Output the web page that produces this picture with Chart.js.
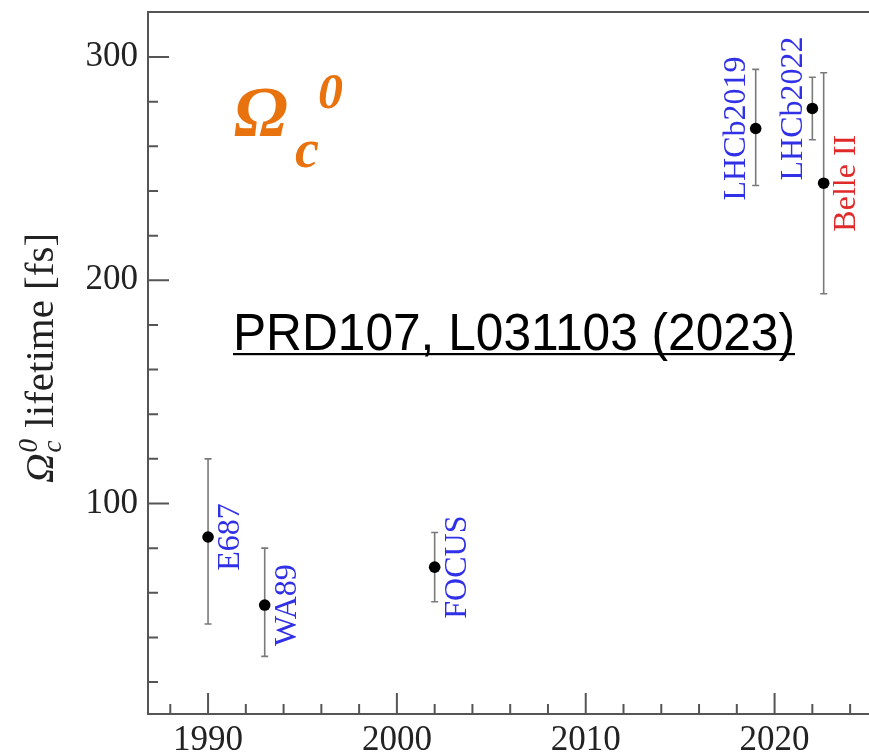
<!DOCTYPE html>
<html><head><meta charset="utf-8">
<script src="https://cdn.jsdelivr.net/npm/chart.js@4.4.1/dist/chart.umd.min.js"></script>
<style>html,body{margin:0;padding:0;background:#fff;overflow:hidden}#wrap{width:869px;height:755px;position:relative}</style>
</head><body><div id="wrap"><canvas id="c" width="869" height="755"></canvas></div>
<script>
// ---- data ----
const experiments = ['E687', 'WA89', 'FOCUS', 'LHCb2019', 'LHCb2022', 'Belle II'];
const years = [1990, 1993, 2002, 2019, 2022, 2022.6];
const lifetimes = [85, 54.5, 71.5, 268, 277, 243.5];
const errUp = [35, 25.5, 15.5, 26.5, 14, 49.5];
const errDown = [39, 23, 15.5, 25.5, 14, 49.5];
const labelColors = ['#3030e6', '#3030e6', '#3030e6', '#3030e6', '#3030e6', '#e02a2a'];
const labelSides = ['right', 'right', 'right', 'left', 'left', 'right'];
const xTickValues = [1988, 1990, 1992, 1994, 1996, 1998, 2000, 2002, 2004, 2006, 2008, 2010, 2012, 2014, 2016, 2018, 2020, 2022, 2024];
const xMajorTicks = [1990, 2000, 2010, 2020];
const yTickValues = [20, 40, 60, 80, 100, 120, 140, 160, 180, 200, 220, 240, 260, 280, 300];
const yMajorTicks = [100, 200, 300];

const AXIS_COLOR = '#555';
const SERIF = '"Liberation Serif", "DejaVu Serif", serif';

const points = years.map((x, i) => ({ x: x, y: lifetimes[i] }));

const errorBars = {
  id: 'errorBars',
  beforeDatasetsDraw(chart) {
    const ctx = chart.ctx, xs = chart.scales.x, ys = chart.scales.y;
    ctx.save();
    ctx.strokeStyle = '#7a7a7a';
    ctx.lineWidth = 1.6;
    years.forEach((yr, i) => {
      const px = xs.getPixelForValue(yr);
      const pTop = ys.getPixelForValue(lifetimes[i] + errUp[i]);
      const pBot = ys.getPixelForValue(lifetimes[i] - errDown[i]);
      ctx.beginPath();
      ctx.moveTo(px, pTop); ctx.lineTo(px, pBot);
      ctx.moveTo(px - 3.5, pTop); ctx.lineTo(px + 3.5, pTop);
      ctx.moveTo(px - 3.5, pBot); ctx.lineTo(px + 3.5, pBot);
      ctx.stroke();
    });
    ctx.restore();
  }
};

const decorations = {
  id: 'decorations',
  afterDraw(chart) {
    const ctx = chart.ctx, xs = chart.scales.x, ys = chart.scales.y, a = chart.chartArea;
    ctx.save();
    // inward tick marks + top frame
    ctx.strokeStyle = AXIS_COLOR;
    ctx.lineWidth = 2;
    ctx.beginPath();
    xs.ticks.forEach(t => {
      const px = xs.getPixelForValue(t.value);
      const len = xMajorTicks.includes(t.value) ? 21 : 10;
      ctx.moveTo(px, a.bottom); ctx.lineTo(px, a.bottom - len);
    });
    ys.ticks.forEach(t => {
      const py = ys.getPixelForValue(t.value);
      const len = yMajorTicks.includes(t.value) ? 21 : 10;
      ctx.moveTo(a.left, py); ctx.lineTo(a.left + len, py);
    });
    ctx.moveTo(a.left, a.top); ctx.lineTo(a.right, a.top);
    ctx.stroke();

    // experiment labels (rotated)
    ctx.font = '32px ' + SERIF;
    ctx.textAlign = 'center';
    ctx.textBaseline = 'middle';
    experiments.forEach((name, i) => {
      const px = xs.getPixelForValue(years[i]);
      const py = ys.getPixelForValue(lifetimes[i]);
      const dx = labelSides[i] === 'right' ? 22 : -20;
      ctx.save();
      ctx.translate(px + dx, py);
      ctx.rotate(-Math.PI / 2);
      ctx.fillStyle = labelColors[i];
      ctx.fillText(name, 0, 1);
      ctx.restore();
    });

    // y axis title: Ω_c^0 lifetime [fs]
    ctx.save();
    ctx.translate(53, 358);
    ctx.rotate(-Math.PI / 2);
    ctx.fillStyle = '#222';
    ctx.textBaseline = 'alphabetic';
    ctx.textAlign = 'left';
    const fMain = '41px ' + SERIF, fIt = 'italic 41px ' + SERIF, fSmall = 'italic 27px ' + SERIF;
    ctx.font = fIt; const wO = ctx.measureText('Ω').width;
    ctx.font = fSmall; const wS = Math.max(ctx.measureText('c').width, ctx.measureText('0').width);
    ctx.font = fMain; const wR = ctx.measureText(' lifetime [fs]').width;
    let x0 = -(wO + wS + 2 + wR) / 2;
    ctx.font = fIt; ctx.fillText('Ω', x0, 0);
    ctx.font = fSmall; ctx.fillText('c', x0 + wO + 1, 8); ctx.fillText('0', x0 + wO + 1, -16);
    ctx.font = fMain; ctx.fillText(' lifetime [fs]', x0 + wO + wS + 2, 0);
    ctx.restore();

    // big orange Ω_c^0
    ctx.fillStyle = '#e8720e';
    ctx.textAlign = 'left';
    ctx.textBaseline = 'alphabetic';
    ctx.font = 'italic bold 72px ' + SERIF;
    ctx.fillText('Ω', 234, 136);
    ctx.font = 'italic bold 54px ' + SERIF;
    ctx.fillText('c', 295, 167);
    ctx.font = 'italic bold 50px ' + SERIF;
    ctx.fillText('0', 318, 108);

    // reference text, underlined
    ctx.fillStyle = '#000';
    ctx.font = '51px "Liberation Sans", Arial, sans-serif';
    const ref = 'PRD107, L031103 (2023)';
    const wRef = ctx.measureText(ref).width;
    const sx = 562 / wRef;
    ctx.save();
    ctx.translate(233, 350);
    ctx.scale(sx, 1);
    ctx.fillText(ref, 0, 0);
    ctx.restore();
    ctx.fillRect(233, 353, 562, 2.2);
    ctx.restore();
  }
};

new Chart(document.getElementById('c'), {
  type: 'scatter',
  data: {
    datasets: [{
      data: points,
      pointRadius: 5.8,
      pointBackgroundColor: '#000',
      pointBorderWidth: 0,
      pointHoverRadius: 5.8,
      clip: false
    }]
  },
  options: {
    responsive: false,
    animation: false,
    events: [],
    layout: { autoPadding: false, padding: { top: 12, right: 0, left: 0, bottom: 0 } },
    plugins: { legend: { display: false }, tooltip: { enabled: false } },
    scales: {
      x: {
        type: 'linear',
        min: 1986.82, max: 2025.0,
        afterBuildTicks: s => { s.ticks = xTickValues.map(v => ({ value: v })); },
        afterFit: s => { s.height = 41; s.paddingLeft = 0; s.paddingRight = 0; },
        grid: { display: false, drawTicks: false },
        border: { display: true, color: AXIS_COLOR, width: 2 },
        ticks: {
          autoSkip: false, maxRotation: 0, padding: 6,
          color: '#222', font: { family: SERIF, size: 35 },
          callback: v => xMajorTicks.includes(v) ? String(v) : ''
        }
      },
      y: {
        type: 'linear',
        min: 5.7, max: 320.2,
        afterBuildTicks: s => { s.ticks = yTickValues.map(v => ({ value: v })); },
        afterFit: s => { s.width = 148; s.paddingTop = 0; s.paddingBottom = 0; },
        grid: { display: false, drawTicks: false },
        border: { display: true, color: AXIS_COLOR, width: 2 },
        ticks: {
          autoSkip: false, padding: 10,
          color: '#222', font: { family: SERIF, size: 35 },
          callback: v => yMajorTicks.includes(v) ? String(v) : ''
        }
      }
    }
  },
  plugins: [errorBars, decorations]
});
</script></body></html>
